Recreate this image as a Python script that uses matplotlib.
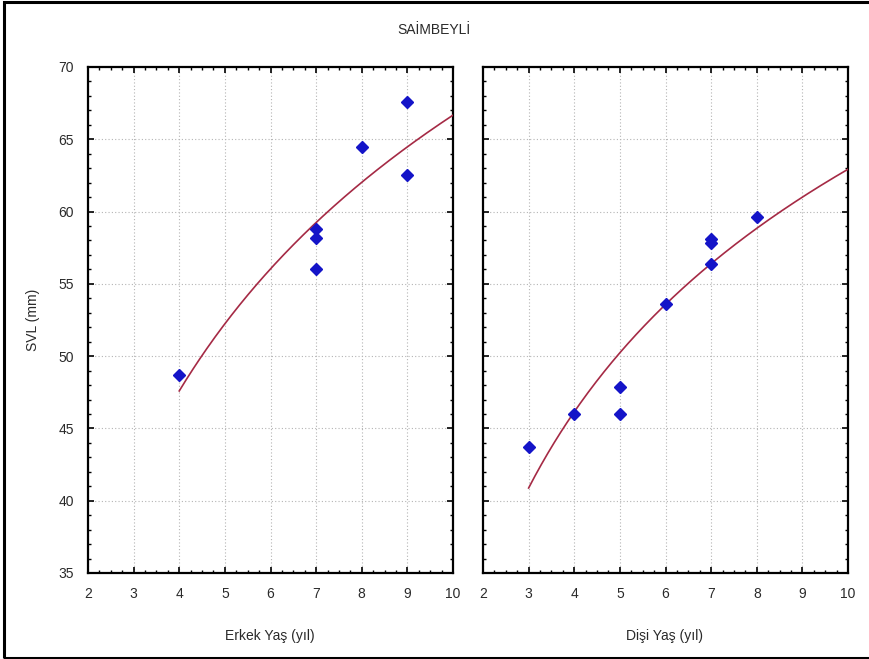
import numpy as np
import matplotlib
matplotlib.use("Agg")
import matplotlib.pyplot as plt
from matplotlib.patches import Rectangle
from matplotlib.ticker import MultipleLocator

plt.rcParams['font.family'] = ['Liberation Sans', 'DejaVu Sans']

title = "SAİMBEYLİ"
y_label = "SVL (mm)"

# Male (Erkek) age vs snout-vent length
male_age = [4, 7, 7, 7, 8, 9, 9]
male_svl = [48.7, 58.8, 58.2, 56.0, 64.5, 67.6, 62.5]
male_label = "Erkek Yaş (yıl)"

# Female (Dişi) age vs snout-vent length
female_age = [3, 4, 5, 5, 6, 7, 7, 7, 8]
female_svl = [43.7, 46.0, 47.9, 46.0, 53.6, 56.4, 57.8, 58.1, 59.6]
female_label = "Dişi Yaş (yıl)"

x_ticks = [2, 3, 4, 5, 6, 7, 8, 9, 10]
y_ticks = [35, 40, 45, 50, 55, 60, 65, 70]

point_color = "#1414c8"
curve_color = "#a52a45"
text_color = "#2a2a2a"

fig = plt.figure(figsize=(8.69, 6.59), dpi=100)

# outer frame
fig.patches.append(Rectangle((3.5 / 869, 1.5 / 659), 1.2, 655.5 / 659,
                             transform=fig.transFigure, fill=False,
                             edgecolor="black", linewidth=2.2, zorder=0))

W, H = 869, 659
bottom = 1 - 573 / H
height = (573 - 67) / H
ax_l = fig.add_axes([88 / W, bottom, 365 / W, height])
ax_r = fig.add_axes([483 / W, bottom, 365 / W, height])


def draw_panel(ax, ages, svl, show_y):
    ages = np.asarray(ages, float)
    svl = np.asarray(svl, float)
    # logarithmic least-squares fit: SVL = a + b*ln(age)
    b, a = np.polyfit(np.log(ages), svl, 1)
    xs = np.linspace(ages.min(), 10, 200)
    ax.plot(xs, a + b * np.log(xs), color=curve_color, lw=1.2, zorder=3)
    ax.plot(ages, svl, linestyle="none", marker="D", markersize=6,
            color=point_color, markeredgecolor=point_color, zorder=4)

    ax.set_xlim(2, 10)
    ax.set_ylim(35, 70)
    ax.set_xticks(x_ticks)
    ax.set_yticks(y_ticks)
    ax.xaxis.set_minor_locator(MultipleLocator(0.25))
    ax.yaxis.set_minor_locator(MultipleLocator(1))
    ax.grid(True, which="major", linestyle=(0, (1, 2)), color="#b4b4b4",
            linewidth=0.8)
    ax.set_axisbelow(True)
    for s in ax.spines.values():
        s.set_linewidth(1.6)
        s.set_color("black")
    ax.tick_params(which="both", direction="in", top=True, right=True,
                   colors="black", labelcolor=text_color, labelsize=10)
    ax.tick_params(which="major", length=4, width=1.2, pad=10)
    ax.tick_params(which="minor", length=2.5, width=1.0)
    if not show_y:
        ax.tick_params(labelleft=False)


draw_panel(ax_l, male_age, male_svl, True)
draw_panel(ax_r, female_age, female_svl, False)

fig.text(270 / W, 1 - 636 / H, male_label, ha="center", va="center",
         fontsize=10, color=text_color)
fig.text(664 / W, 1 - 636 / H, female_label, ha="center", va="center",
         fontsize=10, color=text_color)
fig.text(33 / W, 1 - 320 / H, y_label, ha="center", va="center",
         rotation=90, fontsize=10, color=text_color)
fig.text(434 / W, 1 - 30 / H, title, ha="center", va="center",
         fontsize=10, color=text_color)

fig.savefig("out.png", dpi=100)
